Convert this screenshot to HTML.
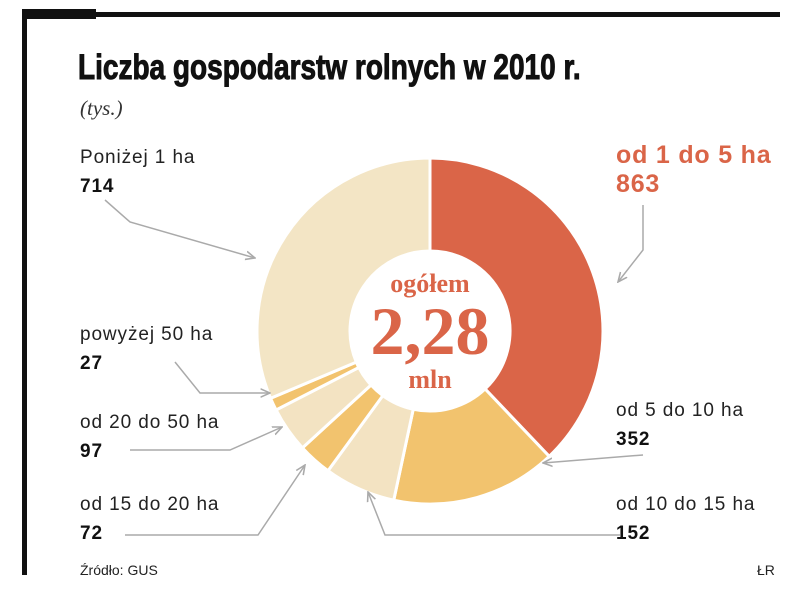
<!DOCTYPE html>
<html><head><meta charset="utf-8"><style>
body{margin:0;background:#fff;width:805px;height:606px;overflow:hidden;font-family:"Liberation Sans",sans-serif}
.t{position:absolute;white-space:nowrap}
</style></head><body>
<div style="position:absolute;left:22px;top:12px;width:758px;height:5px;background:#111"></div>
<div style="position:absolute;left:22px;top:9px;width:74px;height:10px;background:#111"></div>
<div style="position:absolute;left:22px;top:9px;width:5px;height:566px;background:#111"></div>
<div class="t" style="left:78px;top:48px;font-size:35px;font-weight:bold;color:#111;transform:scaleX(0.8);transform-origin:0 0;-webkit-text-stroke:1px #111">Liczba gospodarstw rolnych w 2010 r.</div>
<div class="t" style="left:80px;top:96px;font-family:'Liberation Serif',serif;font-style:italic;font-size:21px;color:#333">(tys.)</div>
<svg id="c" width="805" height="606" style="position:absolute;left:0;top:0">
<defs><marker id="ar" viewBox="0 0 10 10" refX="9" refY="5" markerWidth="7" markerHeight="7" orient="auto"><path d="M0,1L9,5L0,9" fill="none" stroke="#aaa" stroke-width="1.5"/></marker></defs>
</svg>
<div class="t" style="left:80px;top:562px;font-size:14px;color:#222">Źródło: GUS</div>
<div class="t" style="left:757px;top:562px;font-size:14px;color:#222">ŁR</div>
<script>
const categories=["od 1 do 5 ha","od 5 do 10 ha","od 10 do 15 ha","od 15 do 20 ha","od 20 do 50 ha","powyżej 50 ha","Poniżej 1 ha"];
const values=[863,352,152,72,97,27,714];
const colors=["#DA6548","#F2C36E","#F3E3C2","#F2C36E","#F3E3C2","#F2C36E","#F3E5C5"];
const cx=430,cy=331,R=173,r=80;
const svg=document.getElementById('c');
const NS='http://www.w3.org/2000/svg';
const total=values.reduce((a,b)=>a+b,0);
let a0=0;
function pt(rad,a){return [cx+rad*Math.sin(a),cy-rad*Math.cos(a)];}
values.forEach((v,i)=>{
  const a1=a0+v/total*2*Math.PI;
  const p1=pt(R,a0),p2=pt(R,a1),p3=pt(r,a1),p4=pt(r,a0);
  const lg=(a1-a0)>Math.PI?1:0;
  const p=document.createElementNS(NS,'path');
  p.setAttribute('d',`M${p1}A${R},${R} 0 ${lg} 1 ${p2}L${p3}A${r},${r} 0 ${lg} 0 ${p4}Z`);
  p.setAttribute('fill',colors[i]);p.setAttribute('stroke','#fff');p.setAttribute('stroke-width','3');
  
  
  svg.appendChild(p);a0=a1;
});
function line(pts,name){
  const l=document.createElementNS(NS,'polyline');
  l.setAttribute('points',pts);l.setAttribute('fill','none');l.setAttribute('stroke','#aaa');l.setAttribute('stroke-width','1.5');
  l.setAttribute('marker-end','url(#ar)');
  
  
  svg.appendChild(l);
}
line("105,200 130,222 255,258","leader-below-1");
line("643,205 643,250 618,282","leader-1-5");
line("643,455 543,463","leader-5-10");
line("620,535 385,535 368,492","leader-10-15");
line("125,535 258,535 305,465","leader-15-20");
line("130,450 230,450 282,427","leader-20-50");
line("175,362 200,393 270,393","leader-50");
function txt(x,y,s,sz,w,col,name,fam){
  const t=document.createElementNS(NS,'text');
  t.setAttribute('x',x);t.setAttribute('y',y);t.setAttribute('font-size',sz);t.setAttribute('font-weight',w);t.setAttribute('fill',col);
  t.setAttribute('font-family',fam||'"Liberation Sans",sans-serif');t.textContent=s;
  
  
  svg.appendChild(t);return t;
}
const pos=[[616,163,true],[616,416],[616,510],[80,510],[80,428],[80,340],[80,163]];
categories.forEach((c,i)=>{
  const [x,y,big]=pos[i];
  if(big){const a=txt(x,y,c,25,'bold','#DA6548','label-'+i);a.setAttribute('letter-spacing','0.8');const b=txt(x,y+29,values[i],25,'bold','#DA6548','value-'+i);b.setAttribute('letter-spacing','0.8');}
  else{const a=txt(x,y,c,19,'normal','#222','label-'+i);a.setAttribute('letter-spacing','0.9');const b=txt(x,y+29,values[i],19,'bold','#111','value-'+i);b.setAttribute('letter-spacing','0.9');}
});
const sf='"Liberation Serif",serif';
const ct=txt(cx,292,'ogółem',26,'bold','#DA6548','center-label',sf);ct.setAttribute('text-anchor','middle');
const cv=txt(cx,354,'2,28',68,'bold','#DA6548','center-value',sf);cv.setAttribute('text-anchor','middle');
const cu=txt(cx,388,'mln',26,'bold','#DA6548','center-unit',sf);cu.setAttribute('text-anchor','middle');
</script>
</body></html>
